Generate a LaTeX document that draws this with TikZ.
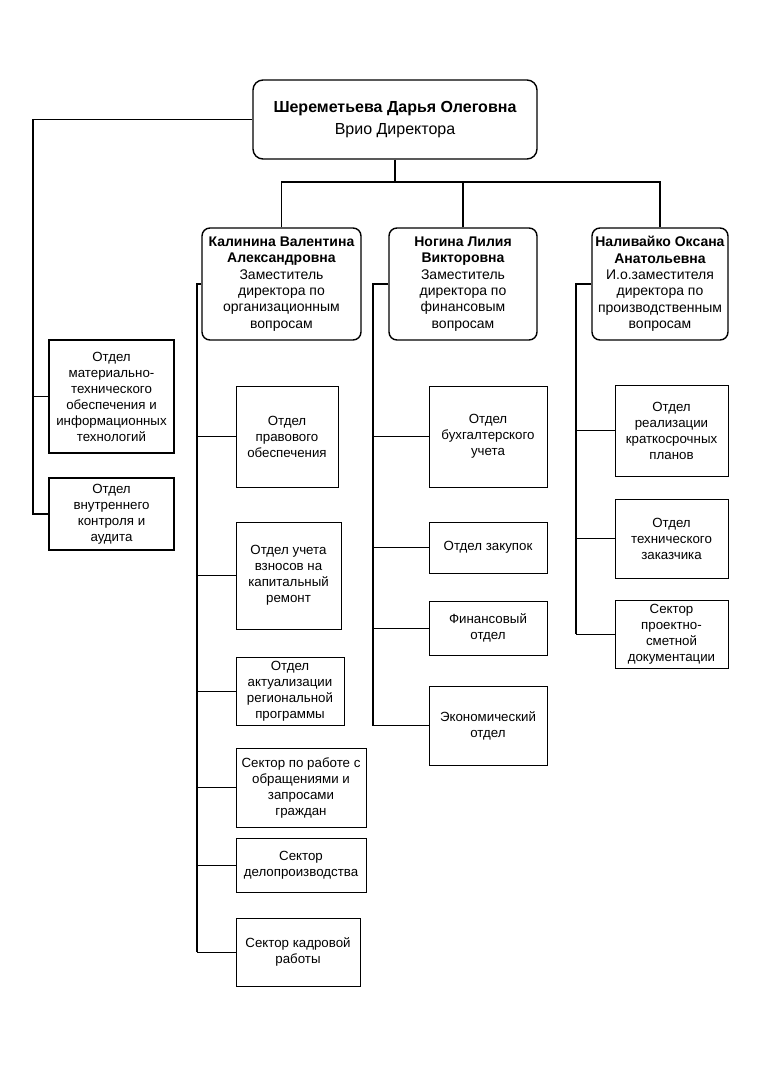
\documentclass[tikz,border=0pt]{standalone}
\usepackage{fontspec}
\setmainfont{Liberation Sans}
\begin{document}
\begin{tikzpicture}[x=1pt,y=-1pt,
  boss/.style={draw, line width=1.4pt, rounded corners=10pt, align=center, inner sep=0pt, font=\fontsize{16}{22}\selectfont},
  dep/.style={draw, line width=1.4pt, rounded corners=8pt, align=center, inner sep=0pt, font=\fontsize{14}{16.4}\selectfont},
  dept/.style={draw, line width=0.9pt, align=center, inner sep=0pt, font=\fontsize{13.3}{16}\selectfont},
  ldept/.style={dept, line width=1.3pt},
  spine/.style={line width=1.4pt},
  link/.style={line width=0.9pt},
  toplink/.style={line width=1.2pt}]
\useasboundingbox[fill=white] (0,0) rectangle (763,1077);

% top
\node[boss, minimum width=284pt, minimum height=79pt] (top) at (395,119.5) {\textbf{Шереметьева Дарья Олеговна}\\Врио Директора};

% deputies
\node[dep, minimum width=159pt, minimum height=112pt] (K) at (281.5,284) {\textbf{Калинина Валентина}\\\textbf{Александровна}\\Заместитель\\директора по\\организационным\\вопросам};
\node[dep, minimum width=148pt, minimum height=112pt] (N) at (463,284) {\textbf{Ногина Лилия}\\\textbf{Викторовна}\\Заместитель\\директора по\\финансовым\\вопросам};
\node[dep, minimum width=136pt, minimum height=112pt] (L) at (660,284) {\textbf{Наливайко Оксана}\\\textbf{Анатольевна}\\И.о.заместителя\\директора по\\производственным\\вопросам};

% left departments
\node[ldept, minimum width=125pt, minimum height=113pt] (mat) at (111.5,396.5) {Отдел\\материально-\\технического\\обеспечения и\\информационных\\технологий};
\node[ldept, minimum width=125pt, minimum height=72pt] (aud) at (111.5,514) {Отдел\\внутреннего\\контроля и\\аудита};

% K departments
\node[dept, minimum width=102pt, minimum height=101pt] (prav) at (287,436.5) {Отдел\\правового\\обеспечения};
\node[dept, minimum width=105pt, minimum height=107pt] (vzn) at (288.5,575.5) {Отдел учета\\взносов на\\капитальный\\ремонт};
\node[dept, minimum width=108pt, minimum height=68pt] (akt) at (290,691) {Отдел\\актуализации\\региональной\\программы};
\node[dept, minimum width=130pt, minimum height=79pt] (obr) at (301,787.5) {Сектор по работе с\\обращениями и\\запросами\\граждан};
\node[dept, minimum width=130pt, minimum height=54pt] (delo) at (301,865) {Сектор\\делопроизводства};
\node[dept, minimum width=124pt, minimum height=68pt] (kadr) at (298,952) {Сектор кадровой\\работы};

% N departments
\node[dept, minimum width=118pt, minimum height=101pt] (buh) at (488,436.5) {Отдел\\бухгалтерского\\учета};
\node[dept, minimum width=118pt, minimum height=51pt] (zak) at (488,547.5) {Отдел закупок};
\node[dept, minimum width=118pt, minimum height=54pt] (fin) at (488,628) {Финансовый\\отдел};
\node[dept, minimum width=118pt, minimum height=79pt] (eco) at (488,725.5) {Экономический\\отдел};

% L departments
\node[dept, minimum width=113pt, minimum height=91pt] (real) at (671.5,430.5) {Отдел\\реализации\\краткосрочных\\планов};
\node[dept, minimum width=113pt, minimum height=79pt] (tech) at (671.5,538.5) {Отдел\\технического\\заказчика};
\node[dept, minimum width=113pt, minimum height=68pt] (proj) at (671.5,634) {Сектор\\проектно-\\сметной\\документации};

% top connectors
\coordinate (hub) at (395,182);
\draw[toplink] (top.south) -- (hub);
\draw[toplink] (K.north) |- (hub);
\draw[toplink] (L.north) |- (hub);
\draw[toplink] (N.north) -- (N.north |- hub);

% left spine
\coordinate (lend) at (33,514);
\draw[spine] (top.west) -| (lend) -- (aud.west);
\draw[link] (lend |- mat.west) -- (mat.west);

% K spine
\coordinate (kend) at (197,952);
\draw[spine] (K.west) -| (kend);
\draw[link] (kend) -- (kadr.west);
\draw[link] (kend |- prav.west) -- (prav.west);
\draw[link] (kend |- vzn.west) -- (vzn.west);
\draw[link] (kend |- akt.west) -- (akt.west);
\draw[link] (kend |- obr.west) -- (obr.west);
\draw[link] (kend |- delo.west) -- (delo.west);

% N spine
\coordinate (nend) at (373,725.5);
\draw[spine] (N.west) -| (nend);
\draw[link] (nend) -- (eco.west);
\draw[link] (nend |- buh.west) -- (buh.west);
\draw[link] (nend |- zak.west) -- (zak.west);
\draw[link] (nend |- fin.west) -- (fin.west);

% L spine
\coordinate (pend) at (576,634);
\draw[spine] (L.west) -| (pend);
\draw[link] (pend) -- (proj.west);
\draw[link] (pend |- real.west) -- (real.west);
\draw[link] (pend |- tech.west) -- (tech.west);
\end{tikzpicture}
\end{document}
